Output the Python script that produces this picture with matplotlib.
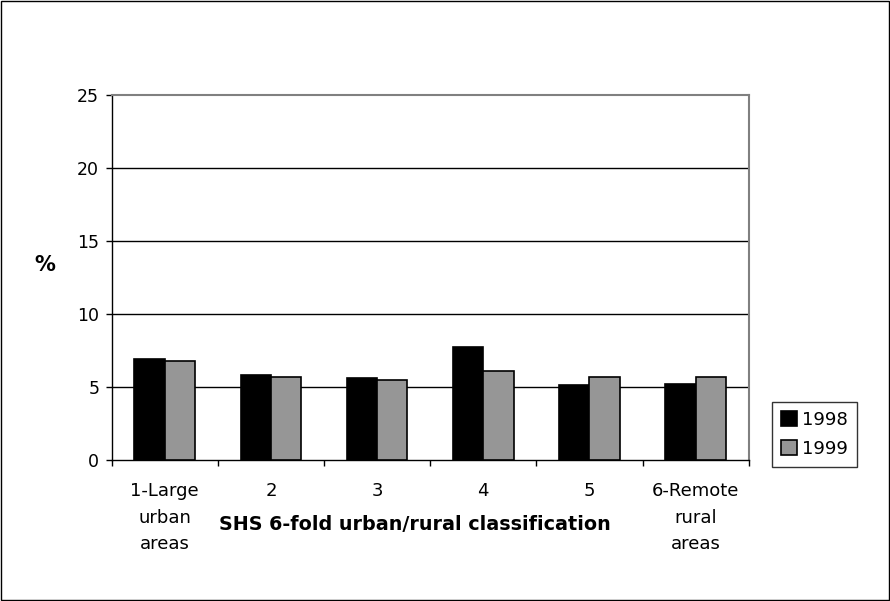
import matplotlib

matplotlib.use("Agg")
import matplotlib.pyplot as plt
import numpy as np
from matplotlib.patches import Rectangle

plt.rcParams["font.family"] = ["DejaVu Sans"]

# SHS 6-fold urban/rural classification, share (%) by year
categories = ["1-Large\nurban\nareas", "2", "3", "4", "5", "6-Remote\nrural\nareas"]
years = ["1998", "1999"]
values_1998 = [6.9, 5.8, 5.6, 7.7, 5.1, 5.2]
values_1999 = [6.8, 5.7, 5.5, 6.1, 5.7, 5.7]
y_ticks = [0, 5, 10, 15, 20, 25]

fig = plt.figure(figsize=(8.9, 6.01), dpi=100)
ax = fig.add_axes([0.1255, 0.2346, 0.7157, 0.6078])

x = np.arange(len(categories))
width = 1 / 3.5
ax.bar(x - width / 2, values_1998, width, color="black", edgecolor="black",
       linewidth=1.2, label=years[0], zorder=3)
ax.bar(x + width / 2, values_1999, width, color="#969696", edgecolor="black",
       linewidth=1.2, label=years[1], zorder=3)

ax.set_xlim(-0.5, len(categories) - 0.5)
ax.set_ylim(0, 25)
ax.set_yticks(y_ticks)
ax.tick_params(axis="y", direction="out", length=4.5, width=1, labelsize=12.5, pad=4.5)
for v in y_ticks[1:-1]:
    ax.axhline(v, color="black", linewidth=1, zorder=1)

# category labels at centres, tick marks on the boundaries
ax.set_xticks(x)
ax.set_xticklabels(categories, fontsize=13, linespacing=1.6)
ax.tick_params(axis="x", which="major", length=0, pad=16)
ax.set_xticks(np.arange(-0.5, len(categories)), minor=True)
ax.tick_params(axis="x", which="minor", direction="out", length=4.5, width=1)

for side in ["left", "bottom"]:
    ax.spines[side].set_color("black")
    ax.spines[side].set_linewidth(1)
for side in ["top", "right"]:
    ax.spines[side].set_color("#808080")
    ax.spines[side].set_linewidth(1.5)

fig.text(45 / 890, 1 - 265 / 601, "%", fontsize=15, fontweight="bold",
         ha="center", va="center")
fig.text(414.5 / 890, 1 - 524 / 601, "SHS 6-fold urban/rural classification",
         fontsize=13.8, fontweight="bold", ha="center", va="center")

leg = ax.legend(loc="upper left", bbox_to_anchor=(771.7 / 890, 1 - 401.7 / 601),
                bbox_transform=fig.transFigure, fontsize=13, frameon=True,
                fancybox=False, edgecolor="black", borderpad=0.5,
                handlelength=0.9, handleheight=0.9, handletextpad=0.3,
                labelspacing=0.6, borderaxespad=0)
leg.get_frame().set_linewidth(1)

# outer chart border
fig.patches.append(Rectangle((0.0008, 0.0012), 0.9984, 0.9976, transform=fig.transFigure,
                             fill=False, edgecolor="black", linewidth=1))

fig.savefig("out.png", dpi=100)
